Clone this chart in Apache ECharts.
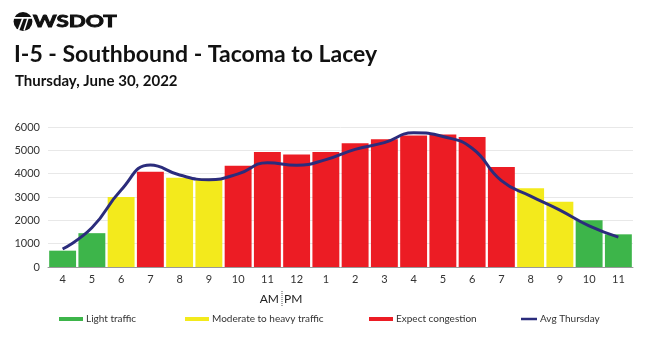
<!DOCTYPE html>
<html>
<head>
<meta charset="utf-8">
<script src="https://cdn.jsdelivr.net/npm/echarts@6/dist/echarts.min.js"></script>
<style>html,body{margin:0;padding:0;background:#fff;}#c{width:650px;height:337px;}</style>
</head>
<body>
<div id="c"></div>
<script>
const categories = ['4','5','6','7','8','9','10','11','12','1','2','3','4','5','6','7','8','9','10','11'];
const volumes = [700,1450,3000,4080,3820,3780,4340,4930,4820,4930,5300,5470,5640,5680,5570,4290,3380,2800,2000,1400];
const levels = ['L','L','M','C','M','M','C','C','C','C','C','C','C','C','C','C','M','M','L','L'];
const avgThursday = [770,1680,3300,4370,3940,3740,3990,4470,4360,4600,5040,5330,5750,5590,5090,3700,3040,2440,1760,1280];
const yTicks = [0,1000,2000,3000,4000,5000,6000];

const colors = {L:'#3db54a', M:'#f3ea1c', C:'#ec1c24', avg:'#2b2c7c'};
const names = {L:'Light traffic', M:'Moderate to heavy traffic', C:'Expect congestion'};
const font = 'Lato, "Open Sans", sans-serif';

function barSeries(k){
  return {
    name: names[k], type:'bar', stack:'v', barCategoryGap:'8%',
    itemStyle:{color:colors[k]},
    data: volumes.map((v,i)=> levels[i]===k ? v : null)
  };
}

const chart = echarts.init(document.getElementById('c'));
const legendBase = {top:314, padding:0, itemWidth:24, itemHeight:4,
  textStyle:{fontFamily:font,fontSize:10,color:'#333',padding:[0,0,0,-2]}};
const headerGraphics = [
  {type:'circle', shape:{cx:23,cy:21.5,r:9.4}, style:{fill:'#111'}},
  {type:'rect', shape:{x:14,y:17,width:18,height:1.8}, style:{fill:'#fff'}},
  {type:'polyline', shape:{points:[[23,18],[18.5,30]]}, style:{stroke:'#fff',lineWidth:1.8}},
  {type:'polyline', shape:{points:[[28,18],[24,30.5]]}, style:{stroke:'#fff',lineWidth:1.5}},
  {type:'text', x:33, y:13, scaleX:1.32, style:{text:'WSDOT', fontFamily:font, fontWeight:'bold', fontSize:17, fill:'#111', stroke:'#111', lineWidth:0.9}},
  {type:'text', left:14, top:43, style:{text:'I-5 - Southbound - Tacoma to Lacey', fontFamily:font, fontWeight:'bold', fontSize:23, fill:'#111'}},
  {type:'text', left:15, top:74, style:{text:'Thursday, June 30, 2022', fontFamily:font, fontWeight:'bold', fontSize:15, fill:'#111'}}
];
chart.setOption({
  animation:false,
  grid:{left:48,right:17,top:127,bottom:70},
  legend:[
    Object.assign({left:59, data:[{name:names.L, icon:'rect'}]}, legendBase),
    Object.assign({left:185, data:[{name:names.M, icon:'rect'}]}, legendBase),
    Object.assign({left:369, data:[{name:names.C, icon:'rect'}]}, legendBase),
    Object.assign({}, legendBase, {left:521, itemWidth:16, itemHeight:2.5, data:[{name:'Avg Thursday', icon:'rect', itemStyle:{color:colors.avg}}]})
  ],
  xAxis:{
    type:'category', data:categories,
    axisLine:{lineStyle:{color:'#999'}},
    axisTick:{length:5, lineStyle:{color:'#999'}},
    axisLabel:{fontFamily:font,fontSize:11,color:'#333',margin:7}
  },
  yAxis:{
    type:'value', min:0, max:6000, interval:1000,
    axisLabel:{fontFamily:font,fontSize:11,color:'#333',margin:8,
      formatter:v=> yTicks.includes(v) ? String(v) : ''},
    splitLine:{lineStyle:{color:'#e8e8e8'}}
  },
  series:[
    barSeries('L'), barSeries('M'), barSeries('C'),
    {name:'Avg Thursday', type:'line', smooth:true, data:avgThursday, symbol:'none',
      lineStyle:{color:colors.avg,width:3}, itemStyle:{color:colors.avg}, z:5}
  ],
  graphic: headerGraphics
});
const xb = (chart.convertToPixel({xAxisIndex:0}, 7) + chart.convertToPixel({xAxisIndex:0}, 8))/2;
chart.setOption({graphic: headerGraphics.concat([
  {type:'text', x:xb-3, y:299, style:{text:'AM', fontFamily:font, fontSize:12, fill:'#222', align:'right', verticalAlign:'middle'}},
  {type:'text', x:xb+2, y:299, style:{text:'PM', fontFamily:font, fontSize:12, fill:'#222', align:'left', verticalAlign:'middle'}},
  {type:'line', shape:{x1:xb,y1:291,x2:xb,y2:307}, style:{stroke:'#555',lineWidth:1,lineDash:[1,1]}}
])}, {replaceMerge:['graphic']});
</script>
</body>
</html>
